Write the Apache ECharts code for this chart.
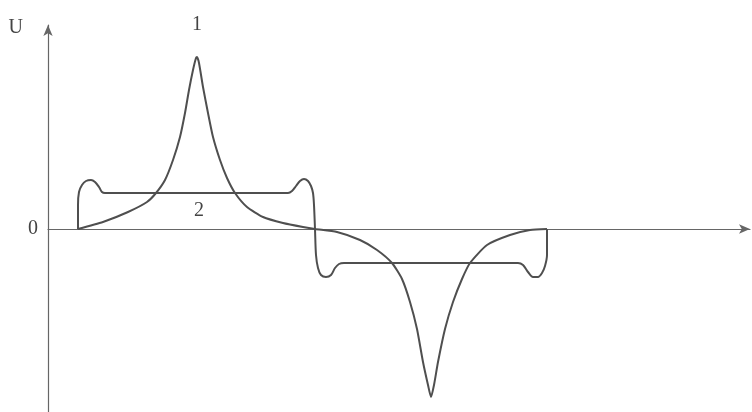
<!DOCTYPE html>
<html>
<head>
<meta charset="utf-8">
<script src="https://cdn.jsdelivr.net/npm/echarts@6/dist/echarts.min.js"></script>
<style>
html,body{margin:0;padding:0;background:#fff;}
#c{width:752px;height:412px;}
</style>
</head>
<body>
<div id="c"></div>
<script>
// Curve 1: sharp peaked pulse (positive then negative)
const curve1 = [
  [3.0,0.0],[5.5,0.7],[8.0,1.7],[9.9,2.7],[10.8,3.6],[11.7,4.9],[12.5,6.9],[13.2,9.2],
  [13.7,11.6],[14.1,13.9],[14.5,15.9],[14.8,17.1],[14.9,17.2],[15.1,16.6],[15.5,14.2],
  [16.0,11.6],[16.5,9.2],[17.2,6.9],[17.9,5.1],[18.7,3.6],[19.9,2.2],[21.5,1.2],[23.5,0.6],
  [25.5,0.2],[26.7,0.0],
  [28.9,-0.3],[31.2,-1.1],[32.9,-2.1],[34.4,-3.4],[35.4,-5.0],[36.2,-7.3],[36.9,-10.0],
  [37.5,-13.3],[38.0,-15.6],[38.3,-16.8],[38.6,-15.6],[39.0,-13.3],[39.7,-10.0],[40.5,-7.3],
  [41.4,-5.0],[42.2,-3.4],[43.9,-1.6],[46.2,-0.6],[48.2,-0.1],[49.9,0.0]
];
// Curve 2: flat-top pulse with overshoots
const curve2 = [
  [3.0,0.0],[3.0,2.4],[3.1,3.7],[3.4,4.4],[3.8,4.8],[4.3,4.9],[4.7,4.7],[5.1,4.2],[5.4,3.7],
  [5.7,3.6],[15.1,3.6],[24.0,3.6],[24.4,3.8],[24.8,4.3],[25.2,4.8],[25.6,5.0],[26.0,4.8],
  [26.3,4.3],[26.5,3.6],[26.6,2.4],[26.7,0.0],[26.8,-2.6],[27.0,-3.9],[27.3,-4.6],[27.8,-4.8],
  [28.3,-4.6],[28.7,-3.9],[29.1,-3.5],[29.6,-3.4],[47.0,-3.4],[47.5,-3.6],[48.0,-4.3],
  [48.5,-4.8],[49.0,-4.8],[49.4,-4.4],[49.7,-3.7],[49.9,-2.6],[49.9,0.0]
];
const curveNames = ['1','2'];
const label1Index = 12;  // peak of curve 1
const label2Index = 10;  // middle of flat top of curve 2
const axisName = 'U';
const originLabel = '0';

const ink = '#4f4f4f';
const font = '"Liberation Serif","DejaVu Serif",serif';

const chart = echarts.init(document.getElementById('c'), null, {renderer:'canvas'});
chart.setOption({
  backgroundColor:'#fff',
  animation:false,
  grid:{left:48,right:2,top:25,bottom:0,containLabel:false},
  xAxis:{
    type:'value', min:0, max:70.2,
    splitLine:{show:false}, axisTick:{show:false}, axisLabel:{show:false},
    axisLine:{onZero:true, symbol:['none','arrow'], symbolSize:[7,11], lineStyle:{color:'#666',width:1.2}}
  },
  yAxis:{
    type:'value', min:-18.3, max:20.4,
    name:axisName, nameLocation:'end', nameGap:-3,
    nameTextStyle:{fontFamily:font,fontSize:20,color:'#444',align:'right',verticalAlign:'middle',padding:[0,25,0,0]},
    splitLine:{show:false}, axisTick:{show:false},
    axisLabel:{show:true, showMinLabel:false, showMaxLabel:false, margin:10, fontFamily:font, fontSize:20, color:'#444',
      formatter:v=> v===0 ? originLabel : ''},
    axisLine:{onZero:false, symbol:['none','arrow'], symbolSize:[7,11], lineStyle:{color:'#666',width:1.2}}
  },
  series:[
    {type:'line', data:curve1, showSymbol:false, symbol:'none', smooth:0.2,
     lineStyle:{color:ink,width:2},
     markPoint:{symbol:'circle', symbolSize:0, silent:true,
       data:[{coord:curve1[label1Index], label:{show:true, formatter:curveNames[0], position:'top', distance:22,
         fontSize:20, fontFamily:font, color:'#444'}}]}},
    {type:'line', data:curve2, showSymbol:false, symbol:'none', smooth:0.3,
     lineStyle:{color:ink,width:2},
     markPoint:{symbol:'circle', symbolSize:0, silent:true,
       data:[{coord:curve2[label2Index], label:{show:true, formatter:curveNames[1], position:'bottom', distance:8,
         fontSize:20, fontFamily:font, color:'#444'}}]}}
  ]
});
</script>
</body>
</html>
